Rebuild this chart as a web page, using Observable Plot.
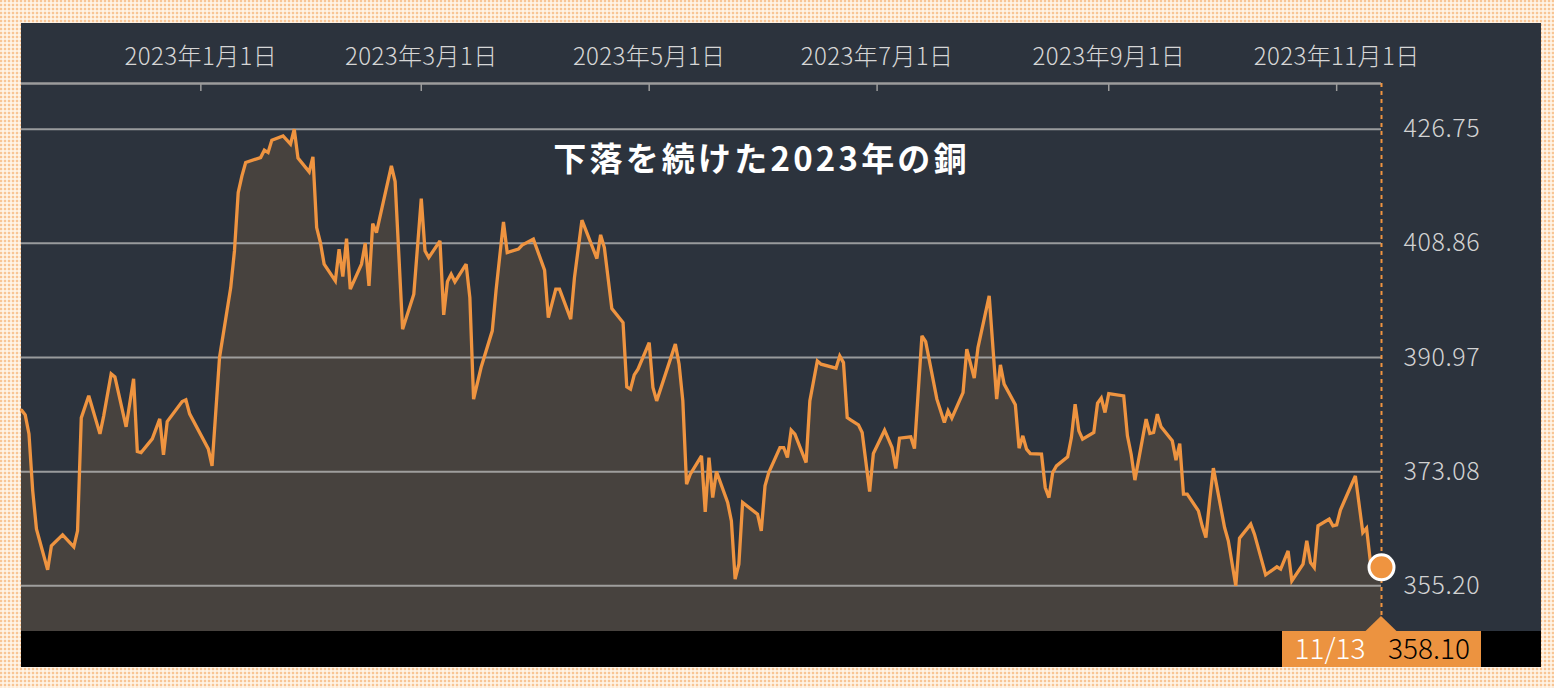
<!DOCTYPE html>
<html><head><meta charset="utf-8">
<script src="https://cdn.jsdelivr.net/npm/d3@7"></script>
<script src="https://cdn.jsdelivr.net/npm/@observablehq/plot@0.6"></script>
<style>
html,body{margin:0;padding:0;}
body{width:1554px;height:688px;overflow:hidden;position:relative;
 background-color:#f8c594;
 background-image:linear-gradient(90deg,transparent 50%,rgba(255,246,234,.78) 50%),linear-gradient(transparent 50%,rgba(255,246,234,.78) 50%);
 background-size:4px 4px;}
#panel{position:absolute;left:21px;top:23px;width:1520px;height:644px;background:#2c333d;}
#panel svg{display:block;}
</style></head><body><div id="panel"></div>
<script>
// ---- data ----
const title = "下落を続けた2023年の銅";
const dates = [
  // 2022-11
  "2022-11-14","2022-11-15","2022-11-16","2022-11-17","2022-11-18","2022-11-21","2022-11-22","2022-11-25","2022-11-28","2022-11-29","2022-11-30",
  // 2022-12
  "2022-12-02","2022-12-05","2022-12-06","2022-12-08","2022-12-09","2022-12-12","2022-12-14","2022-12-15","2022-12-16","2022-12-19","2022-12-21","2022-12-22","2022-12-23","2022-12-27","2022-12-28","2022-12-29",
  // 2023-01
  "2023-01-03","2023-01-04","2023-01-06","2023-01-09","2023-01-10","2023-01-11","2023-01-12","2023-01-13","2023-01-17","2023-01-18","2023-01-19","2023-01-20","2023-01-23","2023-01-25","2023-01-26","2023-01-27","2023-01-30","2023-01-31",
  // 2023-02
  "2023-02-01","2023-02-02","2023-02-03","2023-02-06","2023-02-07","2023-02-08","2023-02-09","2023-02-10","2023-02-13","2023-02-14","2023-02-15","2023-02-16","2023-02-17","2023-02-21","2023-02-22","2023-02-24","2023-02-27",
  // 2023-03
  "2023-03-01","2023-03-02","2023-03-03","2023-03-06","2023-03-07","2023-03-08","2023-03-09","2023-03-10","2023-03-13","2023-03-14","2023-03-15","2023-03-17","2023-03-20","2023-03-21","2023-03-23","2023-03-24","2023-03-27","2023-03-28","2023-03-31",
  // 2023-04
  "2023-04-03","2023-04-04","2023-04-06","2023-04-07","2023-04-10","2023-04-11","2023-04-13","2023-04-17","2023-04-18","2023-04-19","2023-04-21","2023-04-24","2023-04-25","2023-04-26","2023-04-27","2023-04-28",
  // 2023-05
  "2023-05-01","2023-05-02","2023-05-03","2023-05-08","2023-05-09","2023-05-10","2023-05-11","2023-05-12","2023-05-15","2023-05-16","2023-05-17","2023-05-18","2023-05-19","2023-05-22","2023-05-23","2023-05-24","2023-05-25","2023-05-26","2023-05-30","2023-05-31",
  // 2023-06
  "2023-06-01","2023-06-02","2023-06-05","2023-06-06","2023-06-07","2023-06-08","2023-06-09","2023-06-12","2023-06-13","2023-06-15","2023-06-16","2023-06-20","2023-06-21","2023-06-22","2023-06-23","2023-06-24","2023-06-26","2023-06-27","2023-06-29","2023-06-30",
  // 2023-07
  "2023-07-03","2023-07-05","2023-07-06","2023-07-07","2023-07-10","2023-07-11","2023-07-13","2023-07-14","2023-07-17","2023-07-19","2023-07-20","2023-07-21","2023-07-24","2023-07-25","2023-07-27","2023-07-28","2023-07-31",
  // 2023-08
  "2023-08-02","2023-08-03","2023-08-04","2023-08-07","2023-08-08","2023-08-09","2023-08-10","2023-08-11","2023-08-14","2023-08-15","2023-08-16","2023-08-17","2023-08-18","2023-08-21","2023-08-22","2023-08-23","2023-08-24","2023-08-25","2023-08-28","2023-08-29","2023-08-30","2023-08-31",
  // 2023-09
  "2023-09-01","2023-09-05","2023-09-06","2023-09-07","2023-09-08","2023-09-11","2023-09-12","2023-09-13","2023-09-14","2023-09-15","2023-09-18","2023-09-19","2023-09-20","2023-09-21","2023-09-22","2023-09-25","2023-09-26","2023-09-27","2023-09-28","2023-09-29",
  // 2023-10
  "2023-10-02","2023-10-03","2023-10-05","2023-10-06","2023-10-09","2023-10-10","2023-10-13","2023-10-16","2023-10-17","2023-10-19","2023-10-20","2023-10-23","2023-10-24","2023-10-25","2023-10-26","2023-10-27","2023-10-30","2023-10-31",
  // 2023-11
  "2023-11-01","2023-11-02","2023-11-03","2023-11-06","2023-11-08","2023-11-09","2023-11-10","2023-11-13"
];
const values = [
  // 2022-11
  382.73,381.99,379.01,370.08,364.13,357.71,361.47,363.19,361.31,363.82,381.52,
  // 2022-12
  384.97,379.01,381.83,388.41,387.94,380.11,387.63,376.24,376.08,378.23,381.36,375.72,380.94,384.07,384.34,382.15,
  // 2023-01
  376.66,374.00,390.97,401.93,407.68,416.82,419.43,421.52,422.30,423.46,423.09,425.03,425.70,424.40,426.75,422.21,420.06,422.41,
  // 2023-02
  411.33,408.98,405.60,402.98,407.95,403.66,409.61,401.68,405.60,408.89,402.20,411.96,410.55,421.00,418.54,395.42,400.90,
  // 2023-03
  415.88,407.68,406.63,409.25,397.66,402.87,404.03,402.83,405.60,400.37,384.45,389.40,395.15,401.42,412.23,407.42,407.95,408.58,409.52,
  // 2023-04
  404.66,397.23,401.68,401.68,396.98,403.50,412.49,406.48,410.19,408.20,398.64,396.45,386.38,386.02,388.26,389.15,
  // 2023-05
  393.32,386.27,384.18,393.07,389.93,384.18,371.13,372.70,375.57,366.79,375.30,369.03,373.11,368.25,365.38,356.25,358.60,368.25,366.43,363.82,
  // 2023-06
  370.87,372.95,376.87,376.87,375.30,379.59,378.97,374.52,384.18,390.45,389.93,389.31,391.23,390.18,381.57,381.16,380.42,379.22,369.97,375.93,
  // 2023-07
  379.59,376.87,373.58,378.34,378.54,376.71,394.37,393.47,384.45,380.78,382.62,381.47,385.48,392.28,387.74,392.53,400.63,
  // 2023-08
  384.45,389.82,386.80,383.56,376.77,378.70,376.62,375.93,375.83,370.60,369.03,372.95,374.00,375.41,378.43,383.67,379.48,378.18,379.22,383.82,384.61,382.35,
  // 2023-09
  385.33,384.97,378.70,375.83,371.76,381.32,379.06,379.22,382.10,380.11,377.92,374.89,377.49,369.57,369.57,366.95,364.60,362.77,368.52,373.64,
  // 2023-10
  364.33,362.25,355.20,362.67,364.87,363.30,356.92,358.18,357.82,360.68,355.98,358.60,362.25,358.85,358.07,364.60,365.65,364.60,
  // 2023-11
  364.76,367.06,368.41,372.43,363.55,364.24,359.12,358.10
];
const yTickValues = [355.20, 373.08, 390.97, 408.86, 426.75];
const yTickLabels = ["355.20", "373.08", "390.97", "408.86", "426.75"];
const xTickDates = ["2023-01-01", "2023-03-01", "2023-05-01", "2023-07-01", "2023-09-01", "2023-11-01"];
const xTickLabels = ["2023年1月1日", "2023年3月1日", "2023年5月1日", "2023年7月1日", "2023年9月1日", "2023年11月1日"];

// ---- build ----
const data = dates.map((d, i) => ({date: new Date(d), value: values[i]}));
const last = data[data.length - 1];
const vMin = d3.min(values), vMax = d3.max(values);
const pad = (vMax - vMin) * 0.1;
const yLo = vMin - pad, yHi = vMax + pad;
const xTicks = xTickDates.map(d => new Date(d));

const ORANGE = "#ef9440";
const FONT = '"Noto Sans CJK JP", "Noto Sans", sans-serif';
const W = 1520, H = 644, MT = 60, MB = 36;

function footer(index, scales, values, dims) {
  const x0 = scales.x(last.date);
  const yTop = dims.height - dims.marginBottom;
  const g = d3.create("svg:g");
  g.append("rect").attr("x", 0).attr("y", yTop).attr("width", dims.width).attr("height", dims.marginBottom).attr("fill", "#000");
  g.append("rect").attr("x", x0 - 99).attr("y", yTop).attr("width", 199).attr("height", dims.marginBottom).attr("fill", "#ec9340");
  g.append("path").attr("d", `M${x0 - 16},${yTop + 0.5}L${x0},${yTop - 15}L${x0 + 16},${yTop + 0.5}Z`).attr("fill", "#ec9340");
  const ty = yTop + dims.marginBottom / 2;
  g.append("text").attr("x", x0 - 51).attr("y", ty).attr("dy", "0.35em").attr("text-anchor", "middle")
    .attr("fill", "#fff").attr("font-size", 28).attr("font-weight", 300).attr("font-family", FONT)
    .text(d3.utcFormat("%-m/%-d")(last.date));
  g.append("text").attr("x", x0 + 48).attr("y", ty).attr("dy", "0.35em").attr("text-anchor", "middle")
    .attr("fill", "#000").attr("font-size", 28).attr("font-weight", 300).attr("font-family", FONT)
    .text(last.value.toFixed(2));
  return g.node();
}

const chart = Plot.plot({
  width: W, height: H,
  marginTop: MT, marginBottom: MB, marginLeft: 0, marginRight: 160,
  style: {background: "transparent", overflow: "visible", fontFamily: FONT},
  x: {type: "utc", domain: [data[0].date, last.date], axis: null},
  y: {domain: [yLo, yHi], axis: null},
  marks: [
    Plot.areaY(data, {x: "date", y1: () => yLo, y2: "value", fill: "#47423e"}),
    Plot.ruleY(yTickValues, {stroke: "#b8b8b8", strokeOpacity: 0.78, strokeWidth: 2}),
    Plot.ruleY([yHi], {stroke: "#9c9c9c", strokeWidth: 2.5}),
    Plot.ruleX(xTicks, {stroke: "#9c9c9c", strokeWidth: 1.5, insetTop: 1, insetBottom: H - MT - MB - 8}),
    Plot.text(xTicks, {x: d => d, frameAnchor: "top", dy: -26, lineAnchor: "middle",
      text: (d, i) => xTickLabels[i], fill: "#d6d6d6", fontSize: 24, fontWeight: 300}),
    Plot.lineY(data, {x: "date", y: "value", stroke: ORANGE, strokeWidth: 3.3, strokeLinejoin: "miter", strokeMiterlimit: 3}),
    Plot.ruleX([last.date], {stroke: ORANGE, strokeWidth: 2, strokeDasharray: "4,4", insetBottom: 15}),
    Plot.dot([last], {x: "date", y: "value", r: 12.5, fill: ORANGE, stroke: "#fff", strokeWidth: 3}),
    Plot.text(yTickValues, {frameAnchor: "right", y: d => d, dx: 22, textAnchor: "start",
      text: (d, i) => yTickLabels[i], fill: "#d2d2d2", fontSize: 25, fontWeight: 300}),
    Plot.text([title], {frameAnchor: "top", dx: 60, dy: 77, lineAnchor: "middle",
      fontSize: 33, fontWeight: "bold", fill: "#fff"}),
    footer
  ]
});
// letter spacing (styling only)
d3.select(chart).selectAll("text").each(function () {
  const t = this.textContent;
  if (t === title) this.setAttribute("letter-spacing", "3.2px");
  else if (yTickLabels.includes(t)) this.setAttribute("letter-spacing", "0.6px");
  else if (xTickLabels.includes(t)) this.setAttribute("letter-spacing", "0.4px");
});
document.getElementById("panel").appendChild(chart);
</script>
</body></html>
